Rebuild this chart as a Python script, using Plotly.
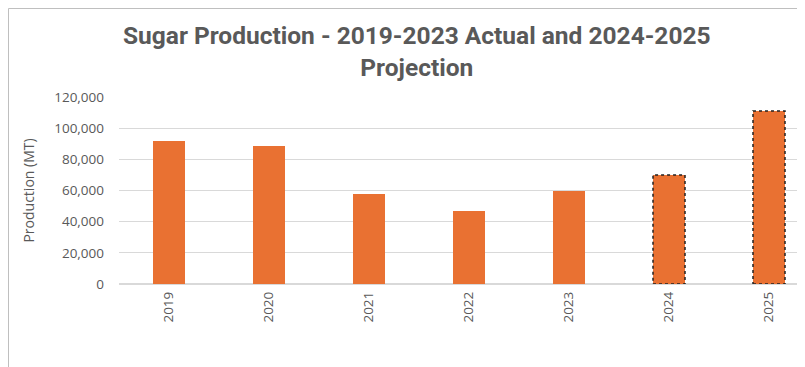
import plotly.graph_objects as go

years = ["2019", "2020", "2021", "2022", "2023", "2024", "2025"]
production = [92000, 88500, 58000, 47000, 60000, 70000, 111000]
is_projection = [False, False, False, False, False, True, True]
y_ticks = [0, 20000, 40000, 60000, 80000, 100000, 120000]

BAR_W = 0.32
ORANGE = "#E97132"
GRAY = "#595959"

fig = go.Figure()
fig.add_trace(go.Bar(
    x=years, y=production, width=BAR_W,
    marker=dict(color=ORANGE, line=dict(width=0)),
    hoverinfo="x+y",
))

shapes = []
for i, (v, p) in enumerate(zip(production, is_projection)):
    if p:
        shapes.append(dict(type="rect", xref="x", yref="y",
                           x0=i - BAR_W / 2, x1=i + BAR_W / 2, y0=0, y1=v,
                           line=dict(color="#222222", width=1.5, dash="dot"),
                           fillcolor="rgba(0,0,0,0)", layer="above"))
# chart frame
shapes.append(dict(type="rect", xref="paper", yref="paper",
                   x0=-110.5 / 681, x1=1.0, y0=-1.0, y1=1 + 88.5 / 187,
                   line=dict(color="#BFBFBF", width=1), fillcolor="rgba(0,0,0,0)"))

fig.update_layout(
    width=797, height=359,
    margin=dict(l=111, r=5, t=89, b=83),
    paper_bgcolor="white", plot_bgcolor="white",
    shapes=shapes,
    showlegend=False,
    bargap=0,
    annotations=[dict(
        text="<b>Sugar Production - 2019-2023 Actual and 2024-2025<br>Projection</b>",
        xref="paper", yref="paper", x=(417 - 119) / 681, y=1 + 78 / 187,
        xanchor="center", yanchor="top", showarrow=False, align="center",
        font=dict(family="Roboto", size=24.5, color=GRAY))],
)
fig.update_xaxes(type="category", range=[-0.5, 6.31], tickangle=-90, automargin=False,
                 tickfont=dict(family="Open Sans, Arial", size=13.5, color=GRAY),
                 showgrid=False, showline=False, ticks="", ticklen=0, ticklabelstandoff=4)
fig.update_yaxes(range=[0, 120000], tickvals=y_ticks, tickformat=",", automargin=False,
                 tickfont=dict(family="Open Sans, Arial", size=13.5, color=GRAY),
                 gridcolor="#D9D9D9", gridwidth=1, zeroline=True, zerolinecolor="#D9D9D9",
                 showline=False, ticks="", ticklabelstandoff=14,
                 title=dict(text="Production (MT)", standoff=16,
                            font=dict(family="Open Sans, Arial", size=14, color=GRAY)))

fig.write_html("out.html")
